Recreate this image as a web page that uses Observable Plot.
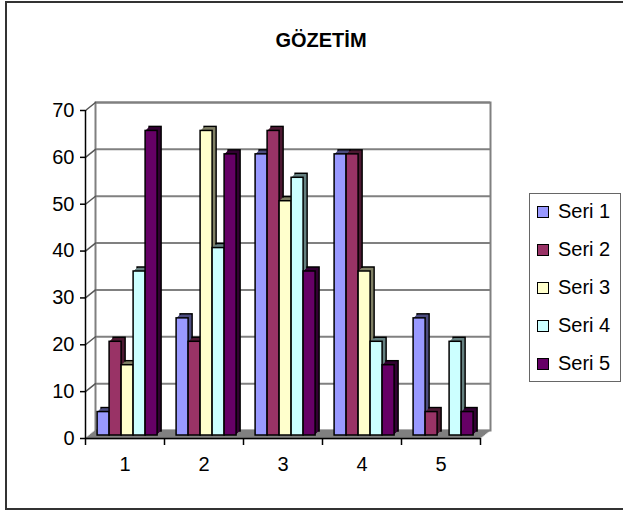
<!DOCTYPE html>
<html>
<head>
<meta charset="utf-8">
<script src="https://cdn.jsdelivr.net/npm/d3@7"></script>
<script src="https://cdn.jsdelivr.net/npm/@observablehq/plot@0.6"></script>
<style>
  body { margin: 0; background: #fff; font-family: Arial, "Liberation Sans", sans-serif; }
  #wrap { position: relative; width: 623px; height: 510px; overflow: hidden; background: #fff; }
  #outer { position: absolute; left: 5px; top: 1px; width: 640px; height: 509px; border: 2px solid #333; box-sizing: border-box; }
  #title { position: absolute; left: 221px; width: 200px; top: 29px; line-height: 20px; text-align: center; font: bold 20px Arial, "Liberation Sans", sans-serif; color: #000; }
  #chart { position: absolute; left: 0; top: 0; }
  #legend { position: absolute; left: 529px; top: 193px; width: 92px; height: 189px; border: 1px solid #666; box-sizing: border-box; background: #fff; }
  .item { position: absolute; left: 0; height: 20px; width: 90px; }
  .sw { position: absolute; left: 7px; top: 5px; width: 10px; height: 10px; border: 1.5px solid #000; box-sizing: content-box; }
  .lab { position: absolute; left: 28px; top: 0; font: 20px Arial, "Liberation Sans", sans-serif; line-height: 20px; color: #000; white-space: nowrap; }
</style>
</head>
<body>
<div id="wrap">
  <div id="outer"></div>
  <div id="chart"></div>
  <div id="title">GÖZETİM</div>
  <div id="legend"></div>
</div>
<script>
// ---- data ----
const categories = ["1", "2", "3", "4", "5"];
const seriesNames = ["Seri 1", "Seri 2", "Seri 3", "Seri 4", "Seri 5"];
const seri1 = [5, 25, 60, 60, 25];
const seri2 = [20, 20, 65, 60, 5];
const seri3 = [15, 65, 50, 35, 0];
const seri4 = [35, 40, 55, 20, 20];
const seri5 = [65, 60, 35, 15, 5];
const yTicks = [0, 10, 20, 30, 40, 50, 60, 70];
const frontColors = ["#9999FF", "#993366", "#FFFFCC", "#CCFFFF", "#660066"];
const sideColors = ["#4D4D80", "#4D1A33", "#808066", "#668080", "#330033"];

const seriesValues = [seri1, seri2, seri3, seri4, seri5];

// ---- layout ----
const W = 623, H = 510, ML = 85, MR = 143, MT = 110, MB = 72;
const bw = (W - ML - MR) / categories.length;
const barW = 12;
const pad = (bw - barW * seriesNames.length) / 2;
const wall = {x: 10, y: -8};
const shift = {x: 2.6, y: -3};
const depth = 4;

const marks = [];

// floor
for (let k = 0; k <= 8; k++) {
  marks.push(Plot.ruleY([0], {dx: k * wall.x / 8, dy: k * wall.y / 8, stroke: "#808080", strokeWidth: 1.6}));
}
// back wall gridlines + edges
marks.push(Plot.ruleY(yTicks.slice(1), {dx: wall.x, dy: wall.y, stroke: "#808080", strokeWidth: 2}));
marks.push(Plot.frame({dx: wall.x, dy: wall.y, stroke: "#808080", strokeWidth: 2}));
// side wall diagonals
const diag = {draw(context, l) { context.moveTo(0, 0); context.lineTo(0, -l); }};
marks.push(Plot.vector(yTicks.slice(1), {
  y: d => d, frameAnchor: "left", anchor: "start",
  length: Math.hypot(wall.x, wall.y), rotate: Math.atan2(wall.x, -wall.y) * 180 / Math.PI,
  shape: diag, stroke: "#555", strokeWidth: 1.5
}));

// bars
seriesNames.forEach((name, s) => {
  const rows = categories.map((c, i) => ({cat: c, value: seriesValues[s][i], series: name}));
  const insetLeft = pad + s * barW;
  const insetRight = bw - pad - (s + 1) * barW;
  for (let k = depth; k >= 1; k--) {
    marks.push(Plot.barY(rows, {
      x: "cat", y: "value", fill: sideColors[s],
      stroke: k === depth ? "#000" : "none", strokeWidth: 1.5,
      insetLeft, insetRight, dx: shift.x + k, dy: shift.y - k
    }));
  }
  marks.push(Plot.barY(rows, {
    x: "cat", y: "value", fill: frontColors[s], stroke: "#000", strokeWidth: 1.5,
    insetLeft, insetRight, dx: shift.x, dy: shift.y
  }));
});

// front axes
marks.push(Plot.ruleY([0], {stroke: "#000", strokeWidth: 1.5}));
marks.push(Plot.ruleX([categories[0]], {dx: -bw / 2, y1: 0, y2: yTicks[yTicks.length - 1], stroke: "#000", strokeWidth: 1.5}));
marks.push(Plot.ruleX(categories, {x: d => d, dx: -bw / 2, y1: 0, y2: 0, insetBottom: -7, stroke: "#000", strokeWidth: 1.5}));
marks.push(Plot.ruleX([categories[categories.length - 1]], {x: d => d, dx: bw / 2, y1: 0, y2: 0, insetBottom: -7, stroke: "#000", strokeWidth: 1.5}));
marks.push(Plot.axisY(yTicks, {tickSize: 5, tickPadding: 6, fontSize: 20, stroke: "#000", strokeWidth: 1.5, label: null}));
marks.push(Plot.axisX({tickSize: 0, tickPadding: 18, fontSize: 20, label: null}));

const chart = Plot.plot({
  width: W, height: H,
  marginLeft: ML, marginRight: MR, marginTop: MT, marginBottom: MB,
  style: {fontFamily: "Arial, 'Liberation Sans', sans-serif", color: "#000", background: "transparent", overflow: "visible"},
  x: {domain: categories, padding: 0, axis: null},
  y: {domain: [0, 70], axis: null},
  marks
});
document.getElementById("chart").appendChild(chart);

// legend
const legend = document.getElementById("legend");
seriesNames.forEach((name, i) => {
  const item = document.createElement("div");
  item.className = "item";
  item.style.top = (7 + 38 * i) + "px";
  const sw = document.createElement("div");
  sw.className = "sw";
  sw.style.background = frontColors[i];
  const lab = document.createElement("div");
  lab.className = "lab";
  lab.textContent = name;
  item.appendChild(sw); item.appendChild(lab);
  legend.appendChild(item);
});
</script>
</body>
</html>
